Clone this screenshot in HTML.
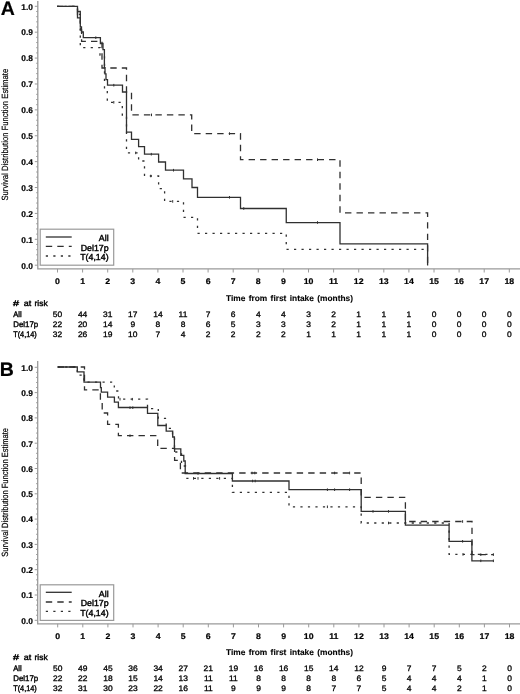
<!DOCTYPE html>
<html><head><meta charset="utf-8"><title>Survival</title>
<style>
html,body{margin:0;padding:0;background:#fff;width:520px;height:694px;overflow:hidden;}
svg{display:block;will-change:transform;}
text{font-family:"Liberation Sans",sans-serif;text-rendering:geometricPrecision;fill:#000;stroke:#000;stroke-width:0.2;}
.yl{font-size:8.4px;font-weight:bold;text-anchor:end;}
.xl{font-size:8.2px;font-weight:bold;text-anchor:middle;}
.yt{font-size:9px;text-anchor:middle;}
.xt{font-size:8.3px;font-weight:bold;stroke-width:0.1;word-spacing:1px;}
.pl{font-size:19.5px;font-weight:bold;fill:#000;}
.rk{font-size:8.1px;stroke-width:0.4;}
.rn{font-size:7.9px;stroke-width:0.3;text-anchor:middle;}
.lg{font-size:8.8px;stroke-width:0.42;text-anchor:end;}
.cs{fill:none;stroke:#303030;stroke-width:1.3;}
.cd{fill:none;stroke:#303030;stroke-width:1.3;stroke-dasharray:6.4 5.1;}
.ct{fill:none;stroke:#303030;stroke-width:1.3;stroke-dasharray:2.2 5.3;}
</style></head>
<body>
<svg width="520" height="694" viewBox="0 0 520 694">
<path d="M37.8 1 V268.9 H520" fill="none" stroke="#9a9a9a" stroke-width="1.3"/>
<path d="M34.8 265.2 H37.8 M36.2 260.02 H37.8 M36.2 254.84 H37.8 M36.2 249.67 H37.8 M36.2 244.49 H37.8 M34.8 239.31 H37.8 M36.2 234.13 H37.8 M36.2 228.95 H37.8 M36.2 223.78 H37.8 M36.2 218.6 H37.8 M34.8 213.42 H37.8 M36.2 208.24 H37.8 M36.2 203.06 H37.8 M36.2 197.89 H37.8 M36.2 192.71 H37.8 M34.8 187.53 H37.8 M36.2 182.35 H37.8 M36.2 177.17 H37.8 M36.2 172 H37.8 M36.2 166.82 H37.8 M34.8 161.64 H37.8 M36.2 156.46 H37.8 M36.2 151.28 H37.8 M36.2 146.11 H37.8 M36.2 140.93 H37.8 M34.8 135.75 H37.8 M36.2 130.57 H37.8 M36.2 125.39 H37.8 M36.2 120.22 H37.8 M36.2 115.04 H37.8 M34.8 109.86 H37.8 M36.2 104.68 H37.8 M36.2 99.5 H37.8 M36.2 94.33 H37.8 M36.2 89.15 H37.8 M34.8 83.97 H37.8 M36.2 78.79 H37.8 M36.2 73.61 H37.8 M36.2 68.44 H37.8 M36.2 63.26 H37.8 M34.8 58.08 H37.8 M36.2 52.9 H37.8 M36.2 47.72 H37.8 M36.2 42.55 H37.8 M36.2 37.37 H37.8 M34.8 32.19 H37.8 M36.2 27.01 H37.8 M36.2 21.83 H37.8 M36.2 16.66 H37.8 M36.2 11.48 H37.8 M34.8 6.3 H37.8 M57.5 268.9 V272.5 M82.6 268.9 V272.5 M107.7 268.9 V272.5 M132.8 268.9 V272.5 M157.9 268.9 V272.5 M183 268.9 V272.5 M208.1 268.9 V272.5 M233.2 268.9 V272.5 M258.3 268.9 V272.5 M283.4 268.9 V272.5 M308.5 268.9 V272.5 M333.6 268.9 V272.5 M358.7 268.9 V272.5 M383.8 268.9 V272.5 M408.9 268.9 V272.5 M434 268.9 V272.5 M459.1 268.9 V272.5 M484.2 268.9 V272.5 M509.3 268.9 V272.5" fill="none" stroke="#9a9a9a" stroke-width="1"/>
<text x="33" y="268.5" class="yl">0.0</text>
<text x="33" y="242.61" class="yl">0.1</text>
<text x="33" y="216.72" class="yl">0.2</text>
<text x="33" y="190.83" class="yl">0.3</text>
<text x="33" y="164.94" class="yl">0.4</text>
<text x="33" y="139.05" class="yl">0.5</text>
<text x="33" y="113.16" class="yl">0.6</text>
<text x="33" y="87.27" class="yl">0.7</text>
<text x="33" y="61.38" class="yl">0.8</text>
<text x="33" y="35.49" class="yl">0.9</text>
<text x="33" y="9.6" class="yl">1.0</text>
<text transform="translate(57.5 284.1) scale(1.07 1)" class="xl">0</text>
<text transform="translate(82.6 284.1) scale(1.07 1)" class="xl">1</text>
<text transform="translate(107.7 284.1) scale(1.07 1)" class="xl">2</text>
<text transform="translate(132.8 284.1) scale(1.07 1)" class="xl">3</text>
<text transform="translate(157.9 284.1) scale(1.07 1)" class="xl">4</text>
<text transform="translate(183 284.1) scale(1.07 1)" class="xl">5</text>
<text transform="translate(208.1 284.1) scale(1.07 1)" class="xl">6</text>
<text transform="translate(233.2 284.1) scale(1.07 1)" class="xl">7</text>
<text transform="translate(258.3 284.1) scale(1.07 1)" class="xl">8</text>
<text transform="translate(283.4 284.1) scale(1.07 1)" class="xl">9</text>
<text transform="translate(308.5 284.1) scale(1.07 1)" class="xl">10</text>
<text transform="translate(333.6 284.1) scale(1.07 1)" class="xl">11</text>
<text transform="translate(358.7 284.1) scale(1.07 1)" class="xl">12</text>
<text transform="translate(383.8 284.1) scale(1.07 1)" class="xl">13</text>
<text transform="translate(408.9 284.1) scale(1.07 1)" class="xl">14</text>
<text transform="translate(434 284.1) scale(1.07 1)" class="xl">15</text>
<text transform="translate(459.1 284.1) scale(1.07 1)" class="xl">16</text>
<text transform="translate(484.2 284.1) scale(1.07 1)" class="xl">17</text>
<text transform="translate(509.3 284.1) scale(1.07 1)" class="xl">18</text>
<text transform="translate(8.2 134.7) rotate(-90)" class="yt" textLength="131.8" lengthAdjust="spacingAndGlyphs">Survival Distribution Function Estimate</text>
<text x="226" y="301.2" class="xt" textLength="127" lengthAdjust="spacingAndGlyphs">Time from first intake (months)</text>
<text x="0.7" y="14.7" class="pl">A</text>
<text x="13.1" y="305.8" class="rk" textLength="6.1" lengthAdjust="spacingAndGlyphs">#</text>
<text x="23.8" y="305.8" class="rk" textLength="7.4" lengthAdjust="spacingAndGlyphs">at</text>
<text x="34.5" y="305.8" class="rk" textLength="13.2" lengthAdjust="spacingAndGlyphs">risk</text>
<text x="13.2" y="316.7" class="rk" textLength="8.4" lengthAdjust="spacingAndGlyphs">All</text>
<text transform="translate(57.5 316.7) scale(1.07 1)" class="rn">50</text>
<text transform="translate(82.6 316.7) scale(1.07 1)" class="rn">44</text>
<text transform="translate(107.7 316.7) scale(1.07 1)" class="rn">31</text>
<text transform="translate(132.8 316.7) scale(1.07 1)" class="rn">17</text>
<text transform="translate(157.9 316.7) scale(1.07 1)" class="rn">14</text>
<text transform="translate(183 316.7) scale(1.07 1)" class="rn">11</text>
<text transform="translate(208.1 316.7) scale(1.07 1)" class="rn">7</text>
<text transform="translate(233.2 316.7) scale(1.07 1)" class="rn">6</text>
<text transform="translate(258.3 316.7) scale(1.07 1)" class="rn">4</text>
<text transform="translate(283.4 316.7) scale(1.07 1)" class="rn">4</text>
<text transform="translate(308.5 316.7) scale(1.07 1)" class="rn">3</text>
<text transform="translate(333.6 316.7) scale(1.07 1)" class="rn">2</text>
<text transform="translate(358.7 316.7) scale(1.07 1)" class="rn">1</text>
<text transform="translate(383.8 316.7) scale(1.07 1)" class="rn">1</text>
<text transform="translate(408.9 316.7) scale(1.07 1)" class="rn">1</text>
<text transform="translate(434 316.7) scale(1.07 1)" class="rn">0</text>
<text transform="translate(459.1 316.7) scale(1.07 1)" class="rn">0</text>
<text transform="translate(484.2 316.7) scale(1.07 1)" class="rn">0</text>
<text transform="translate(509.3 316.7) scale(1.07 1)" class="rn">0</text>
<text x="13.2" y="326.6" class="rk" textLength="25" lengthAdjust="spacingAndGlyphs">Del17p</text>
<text transform="translate(57.5 326.6) scale(1.07 1)" class="rn">22</text>
<text transform="translate(82.6 326.6) scale(1.07 1)" class="rn">20</text>
<text transform="translate(107.7 326.6) scale(1.07 1)" class="rn">14</text>
<text transform="translate(132.8 326.6) scale(1.07 1)" class="rn">9</text>
<text transform="translate(157.9 326.6) scale(1.07 1)" class="rn">8</text>
<text transform="translate(183 326.6) scale(1.07 1)" class="rn">8</text>
<text transform="translate(208.1 326.6) scale(1.07 1)" class="rn">6</text>
<text transform="translate(233.2 326.6) scale(1.07 1)" class="rn">5</text>
<text transform="translate(258.3 326.6) scale(1.07 1)" class="rn">3</text>
<text transform="translate(283.4 326.6) scale(1.07 1)" class="rn">3</text>
<text transform="translate(308.5 326.6) scale(1.07 1)" class="rn">3</text>
<text transform="translate(333.6 326.6) scale(1.07 1)" class="rn">2</text>
<text transform="translate(358.7 326.6) scale(1.07 1)" class="rn">1</text>
<text transform="translate(383.8 326.6) scale(1.07 1)" class="rn">1</text>
<text transform="translate(408.9 326.6) scale(1.07 1)" class="rn">1</text>
<text transform="translate(434 326.6) scale(1.07 1)" class="rn">0</text>
<text transform="translate(459.1 326.6) scale(1.07 1)" class="rn">0</text>
<text transform="translate(484.2 326.6) scale(1.07 1)" class="rn">0</text>
<text transform="translate(509.3 326.6) scale(1.07 1)" class="rn">0</text>
<text x="13.2" y="336.6" class="rk" textLength="23.6" lengthAdjust="spacingAndGlyphs">T(4,14)</text>
<text transform="translate(57.5 336.6) scale(1.07 1)" class="rn">32</text>
<text transform="translate(82.6 336.6) scale(1.07 1)" class="rn">26</text>
<text transform="translate(107.7 336.6) scale(1.07 1)" class="rn">19</text>
<text transform="translate(132.8 336.6) scale(1.07 1)" class="rn">10</text>
<text transform="translate(157.9 336.6) scale(1.07 1)" class="rn">7</text>
<text transform="translate(183 336.6) scale(1.07 1)" class="rn">4</text>
<text transform="translate(208.1 336.6) scale(1.07 1)" class="rn">2</text>
<text transform="translate(233.2 336.6) scale(1.07 1)" class="rn">2</text>
<text transform="translate(258.3 336.6) scale(1.07 1)" class="rn">2</text>
<text transform="translate(283.4 336.6) scale(1.07 1)" class="rn">2</text>
<text transform="translate(308.5 336.6) scale(1.07 1)" class="rn">1</text>
<text transform="translate(333.6 336.6) scale(1.07 1)" class="rn">1</text>
<text transform="translate(358.7 336.6) scale(1.07 1)" class="rn">1</text>
<text transform="translate(383.8 336.6) scale(1.07 1)" class="rn">1</text>
<text transform="translate(408.9 336.6) scale(1.07 1)" class="rn">1</text>
<text transform="translate(434 336.6) scale(1.07 1)" class="rn">0</text>
<text transform="translate(459.1 336.6) scale(1.07 1)" class="rn">0</text>
<text transform="translate(484.2 336.6) scale(1.07 1)" class="rn">0</text>
<text transform="translate(509.3 336.6) scale(1.07 1)" class="rn">0</text>
<rect x="40.2" y="229.2" width="73.5" height="36" fill="#fff" stroke="#9a9a9a" stroke-width="1.2"/>
<path d="M45.8 237 H71.7" class="cs"/>
<text x="108.6" y="241.2" class="lg">All</text>
<path d="M45.8 246.4 H71.7" class="cd"/>
<text x="108.6" y="250.6" class="lg">Del17p</text>
<path d="M45.8 256 H71.7" class="ct"/>
<text x="108.6" y="260.2" class="lg">T(4,14)</text>
<path d="M57 6.3 H77.5 V14.4 H80.3 V47.6 H100 V55 H104.5 V89 H107.3 V102.3 H122.3 V115 H126.5 V152.9 H138.6 V161 H144.5 V176 H158.6 V188.6 H164.6 V201.4 H183.5 V217.3 H197.5 V233.3 H286.25 V249.3 H427.6" class="ct"/>
<path d="M57 6.3 H77.5 V17.8 H80.3 V30 H81.6 V41.3 H102 V68 H126.5 V92 H131.5 V114.9 H191.7 V133.6 H240.5 V159.7 H340 V212.8 H427.6 V265.5" class="cd"/>
<path d="M57 6.3 H77.5 V11.5 H80.3 V27 H81.5 V32 H83.3 V37.7 H100.4 V43.5 H103 V49.6 H104.4 V67.7 H105 V73.8 H106 V79.6 H107.5 V85.2 H122.5 V92 H126.5 V132.2 H131.5 V139.4 H138.6 V146.6 H144.5 V154.2 H158.6 V162 H165.5 V170.2 H183.5 V178.8 H192 V187.5 H197.5 V197.3 H240.5 V208.5 H286.25 V222.7 H340 V243.9 H427.6 V265.5" class="cs"/>
<path d="M77.5 11.5 V17.8 H80.3" class="cs"/>
<path d="M95.8 36.4 V39 M113.8 83.9 V86.5 M151.3 152.9 V155.5 M173.5 168.9 V171.5 M229.5 196 V198.6 M243.75 207.2 V209.8 M317.5 221.2 V223.8 M151.5 113.6 V116.2 M229.5 132.3 V134.9 M317.5 158.4 V161 M113.8 101 V103.6 M135.7 151.6 V154.2 M150.8 174.7 V177.3 M172.7 200.1 V202.7" fill="none" stroke="#303030" stroke-width="1"/>
<path d="M37.7 361 V623.8 H520" fill="none" stroke="#9a9a9a" stroke-width="1.3"/>
<path d="M34.7 620.3 H37.7 M36.1 615.24 H37.7 M36.1 610.18 H37.7 M36.1 605.12 H37.7 M36.1 600.06 H37.7 M34.7 595 H37.7 M36.1 589.94 H37.7 M36.1 584.88 H37.7 M36.1 579.82 H37.7 M36.1 574.76 H37.7 M34.7 569.7 H37.7 M36.1 564.64 H37.7 M36.1 559.58 H37.7 M36.1 554.52 H37.7 M36.1 549.46 H37.7 M34.7 544.4 H37.7 M36.1 539.34 H37.7 M36.1 534.28 H37.7 M36.1 529.22 H37.7 M36.1 524.16 H37.7 M34.7 519.1 H37.7 M36.1 514.04 H37.7 M36.1 508.98 H37.7 M36.1 503.92 H37.7 M36.1 498.86 H37.7 M34.7 493.8 H37.7 M36.1 488.74 H37.7 M36.1 483.68 H37.7 M36.1 478.62 H37.7 M36.1 473.56 H37.7 M34.7 468.5 H37.7 M36.1 463.44 H37.7 M36.1 458.38 H37.7 M36.1 453.32 H37.7 M36.1 448.26 H37.7 M34.7 443.2 H37.7 M36.1 438.14 H37.7 M36.1 433.08 H37.7 M36.1 428.02 H37.7 M36.1 422.96 H37.7 M34.7 417.9 H37.7 M36.1 412.84 H37.7 M36.1 407.78 H37.7 M36.1 402.72 H37.7 M36.1 397.66 H37.7 M34.7 392.6 H37.7 M36.1 387.54 H37.7 M36.1 382.48 H37.7 M36.1 377.42 H37.7 M36.1 372.36 H37.7 M34.7 367.3 H37.7 M57.7 623.8 V627.4 M82.8 623.8 V627.4 M107.9 623.8 V627.4 M133 623.8 V627.4 M158.1 623.8 V627.4 M183.2 623.8 V627.4 M208.3 623.8 V627.4 M233.4 623.8 V627.4 M258.5 623.8 V627.4 M283.6 623.8 V627.4 M308.7 623.8 V627.4 M333.8 623.8 V627.4 M358.9 623.8 V627.4 M384 623.8 V627.4 M409.1 623.8 V627.4 M434.2 623.8 V627.4 M459.3 623.8 V627.4 M484.4 623.8 V627.4 M509.5 623.8 V627.4" fill="none" stroke="#9a9a9a" stroke-width="1"/>
<text x="33" y="623.6" class="yl">0.0</text>
<text x="33" y="598.3" class="yl">0.1</text>
<text x="33" y="573" class="yl">0.2</text>
<text x="33" y="547.7" class="yl">0.3</text>
<text x="33" y="522.4" class="yl">0.4</text>
<text x="33" y="497.1" class="yl">0.5</text>
<text x="33" y="471.8" class="yl">0.6</text>
<text x="33" y="446.5" class="yl">0.7</text>
<text x="33" y="421.2" class="yl">0.8</text>
<text x="33" y="395.9" class="yl">0.9</text>
<text x="33" y="370.6" class="yl">1.0</text>
<text transform="translate(57.7 638.6) scale(1.07 1)" class="xl">0</text>
<text transform="translate(82.8 638.6) scale(1.07 1)" class="xl">1</text>
<text transform="translate(107.9 638.6) scale(1.07 1)" class="xl">2</text>
<text transform="translate(133 638.6) scale(1.07 1)" class="xl">3</text>
<text transform="translate(158.1 638.6) scale(1.07 1)" class="xl">4</text>
<text transform="translate(183.2 638.6) scale(1.07 1)" class="xl">5</text>
<text transform="translate(208.3 638.6) scale(1.07 1)" class="xl">6</text>
<text transform="translate(233.4 638.6) scale(1.07 1)" class="xl">7</text>
<text transform="translate(258.5 638.6) scale(1.07 1)" class="xl">8</text>
<text transform="translate(283.6 638.6) scale(1.07 1)" class="xl">9</text>
<text transform="translate(308.7 638.6) scale(1.07 1)" class="xl">10</text>
<text transform="translate(333.8 638.6) scale(1.07 1)" class="xl">11</text>
<text transform="translate(358.9 638.6) scale(1.07 1)" class="xl">12</text>
<text transform="translate(384 638.6) scale(1.07 1)" class="xl">13</text>
<text transform="translate(409.1 638.6) scale(1.07 1)" class="xl">14</text>
<text transform="translate(434.2 638.6) scale(1.07 1)" class="xl">15</text>
<text transform="translate(459.3 638.6) scale(1.07 1)" class="xl">16</text>
<text transform="translate(484.4 638.6) scale(1.07 1)" class="xl">17</text>
<text transform="translate(509.5 638.6) scale(1.07 1)" class="xl">18</text>
<text transform="translate(8.2 492.4) rotate(-90)" class="yt" textLength="128.7" lengthAdjust="spacingAndGlyphs">Survival Distribution Function Estimate</text>
<text x="226" y="655.1" class="xt" textLength="127" lengthAdjust="spacingAndGlyphs">Time from first intake (months)</text>
<text x="-0.3" y="375.9" class="pl">B</text>
<text x="13.1" y="660.3" class="rk" textLength="6.1" lengthAdjust="spacingAndGlyphs">#</text>
<text x="23.8" y="660.3" class="rk" textLength="7.4" lengthAdjust="spacingAndGlyphs">at</text>
<text x="34.5" y="660.3" class="rk" textLength="13.2" lengthAdjust="spacingAndGlyphs">risk</text>
<text x="13.2" y="671" class="rk" textLength="8.4" lengthAdjust="spacingAndGlyphs">All</text>
<text transform="translate(57.7 671) scale(1.07 1)" class="rn">50</text>
<text transform="translate(82.8 671) scale(1.07 1)" class="rn">49</text>
<text transform="translate(107.9 671) scale(1.07 1)" class="rn">45</text>
<text transform="translate(133 671) scale(1.07 1)" class="rn">36</text>
<text transform="translate(158.1 671) scale(1.07 1)" class="rn">34</text>
<text transform="translate(183.2 671) scale(1.07 1)" class="rn">27</text>
<text transform="translate(208.3 671) scale(1.07 1)" class="rn">21</text>
<text transform="translate(233.4 671) scale(1.07 1)" class="rn">19</text>
<text transform="translate(258.5 671) scale(1.07 1)" class="rn">16</text>
<text transform="translate(283.6 671) scale(1.07 1)" class="rn">16</text>
<text transform="translate(308.7 671) scale(1.07 1)" class="rn">15</text>
<text transform="translate(333.8 671) scale(1.07 1)" class="rn">14</text>
<text transform="translate(358.9 671) scale(1.07 1)" class="rn">12</text>
<text transform="translate(384 671) scale(1.07 1)" class="rn">9</text>
<text transform="translate(409.1 671) scale(1.07 1)" class="rn">7</text>
<text transform="translate(434.2 671) scale(1.07 1)" class="rn">7</text>
<text transform="translate(459.3 671) scale(1.07 1)" class="rn">5</text>
<text transform="translate(484.4 671) scale(1.07 1)" class="rn">2</text>
<text transform="translate(509.5 671) scale(1.07 1)" class="rn">0</text>
<text x="13.2" y="681" class="rk" textLength="25" lengthAdjust="spacingAndGlyphs">Del17p</text>
<text transform="translate(57.7 681) scale(1.07 1)" class="rn">22</text>
<text transform="translate(82.8 681) scale(1.07 1)" class="rn">22</text>
<text transform="translate(107.9 681) scale(1.07 1)" class="rn">18</text>
<text transform="translate(133 681) scale(1.07 1)" class="rn">15</text>
<text transform="translate(158.1 681) scale(1.07 1)" class="rn">14</text>
<text transform="translate(183.2 681) scale(1.07 1)" class="rn">13</text>
<text transform="translate(208.3 681) scale(1.07 1)" class="rn">11</text>
<text transform="translate(233.4 681) scale(1.07 1)" class="rn">11</text>
<text transform="translate(258.5 681) scale(1.07 1)" class="rn">8</text>
<text transform="translate(283.6 681) scale(1.07 1)" class="rn">8</text>
<text transform="translate(308.7 681) scale(1.07 1)" class="rn">8</text>
<text transform="translate(333.8 681) scale(1.07 1)" class="rn">8</text>
<text transform="translate(358.9 681) scale(1.07 1)" class="rn">6</text>
<text transform="translate(384 681) scale(1.07 1)" class="rn">5</text>
<text transform="translate(409.1 681) scale(1.07 1)" class="rn">4</text>
<text transform="translate(434.2 681) scale(1.07 1)" class="rn">4</text>
<text transform="translate(459.3 681) scale(1.07 1)" class="rn">4</text>
<text transform="translate(484.4 681) scale(1.07 1)" class="rn">1</text>
<text transform="translate(509.5 681) scale(1.07 1)" class="rn">0</text>
<text x="13.2" y="691" class="rk" textLength="23.6" lengthAdjust="spacingAndGlyphs">T(4,14)</text>
<text transform="translate(57.7 691) scale(1.07 1)" class="rn">32</text>
<text transform="translate(82.8 691) scale(1.07 1)" class="rn">31</text>
<text transform="translate(107.9 691) scale(1.07 1)" class="rn">30</text>
<text transform="translate(133 691) scale(1.07 1)" class="rn">23</text>
<text transform="translate(158.1 691) scale(1.07 1)" class="rn">22</text>
<text transform="translate(183.2 691) scale(1.07 1)" class="rn">16</text>
<text transform="translate(208.3 691) scale(1.07 1)" class="rn">11</text>
<text transform="translate(233.4 691) scale(1.07 1)" class="rn">9</text>
<text transform="translate(258.5 691) scale(1.07 1)" class="rn">9</text>
<text transform="translate(283.6 691) scale(1.07 1)" class="rn">9</text>
<text transform="translate(308.7 691) scale(1.07 1)" class="rn">8</text>
<text transform="translate(333.8 691) scale(1.07 1)" class="rn">7</text>
<text transform="translate(358.9 691) scale(1.07 1)" class="rn">7</text>
<text transform="translate(384 691) scale(1.07 1)" class="rn">5</text>
<text transform="translate(409.1 691) scale(1.07 1)" class="rn">4</text>
<text transform="translate(434.2 691) scale(1.07 1)" class="rn">4</text>
<text transform="translate(459.3 691) scale(1.07 1)" class="rn">2</text>
<text transform="translate(484.4 691) scale(1.07 1)" class="rn">1</text>
<text transform="translate(509.5 691) scale(1.07 1)" class="rn">0</text>
<rect x="40.2" y="584.8" width="73.5" height="35.6" fill="#fff" stroke="#9a9a9a" stroke-width="1.2"/>
<path d="M45.8 592.3 H71.7" class="cs"/>
<text x="108.6" y="596.5" class="lg">All</text>
<path d="M45.8 602 H71.7" class="cd"/>
<text x="108.6" y="606.2" class="lg">Del17p</text>
<path d="M45.8 611.4 H71.7" class="ct"/>
<text x="108.6" y="615.6" class="lg">T(4,14)</text>
<path d="M57.7 367 H77.3 V375.2 H84 V382.2 H114.3 V391 H118.5 V399.1 H147.5 V408.7 H158.3 V418.3 H166.2 V428.4 H172.5 V437 H174.5 V452 H181.5 V466 H185.5 V478.4 H232.4 V492.4 H289 V506.8 H361.2 V523 H449.1 V554.4 H493.4" class="ct"/>
<path d="M57.7 367 H84.5 V389.9 H100.4 V401.3 H102.2 V413 H107.6 V424.4 H118.4 V435.7 H157.7 V448.3 H174.6 V460.3 H180.4 V473 H361.2 V497.3 H405.4 V521.5 H472 V554.6 H493.4" class="cd"/>
<path d="M57.7 367 H77.3 V371.8 H84 V382.2 H100.5 V387.6 H101.3 V392.2 H107.6 V397.2 H114.4 V402.2 H118.4 V407.5 H147.5 V413.3 H157.8 V425.5 H166.2 V431.2 H172.7 V437 H174.4 V448.8 H180.8 V455.4 H183.8 V461 H185.2 V473.5 H232.4 V481 H289 V489.7 H361.2 V511.4 H405.4 V525.1 H449.1 V541.3 H471.9 V560.8 H493.4" class="cs"/>
<path d="M130 406.4 V409 M132.8 406.4 V409 M198 472.2 V474.8 M252.6 479.7 V482.3 M255.2 479.7 V482.3 M327.4 488.4 V491 M334.6 488.4 V491 M349.6 488.4 V491 M373 510.1 V512.7 M388.5 510.1 V512.7 M462.6 540 V542.6 M480.8 559.5 V562.1 M493.4 559.5 V562.1 M130 434.4 V437 M252 471.7 V474.3 M254.8 471.7 V474.3 M334.6 471.7 V474.3 M349.6 471.7 V474.3 M462.6 520.2 V522.8 M480.8 553.3 V555.9 M493.4 553.3 V555.9 M120 397.9 V400.5 M132.3 397.9 V400.5 M193.5 477.1 V479.7 M198 477.1 V479.7 M219.6 477.1 V479.7 M327.4 505.5 V508.1 M388.5 521.7 V524.3 M463 553.1 V555.7" fill="none" stroke="#303030" stroke-width="1"/>
</svg>
</body></html>
